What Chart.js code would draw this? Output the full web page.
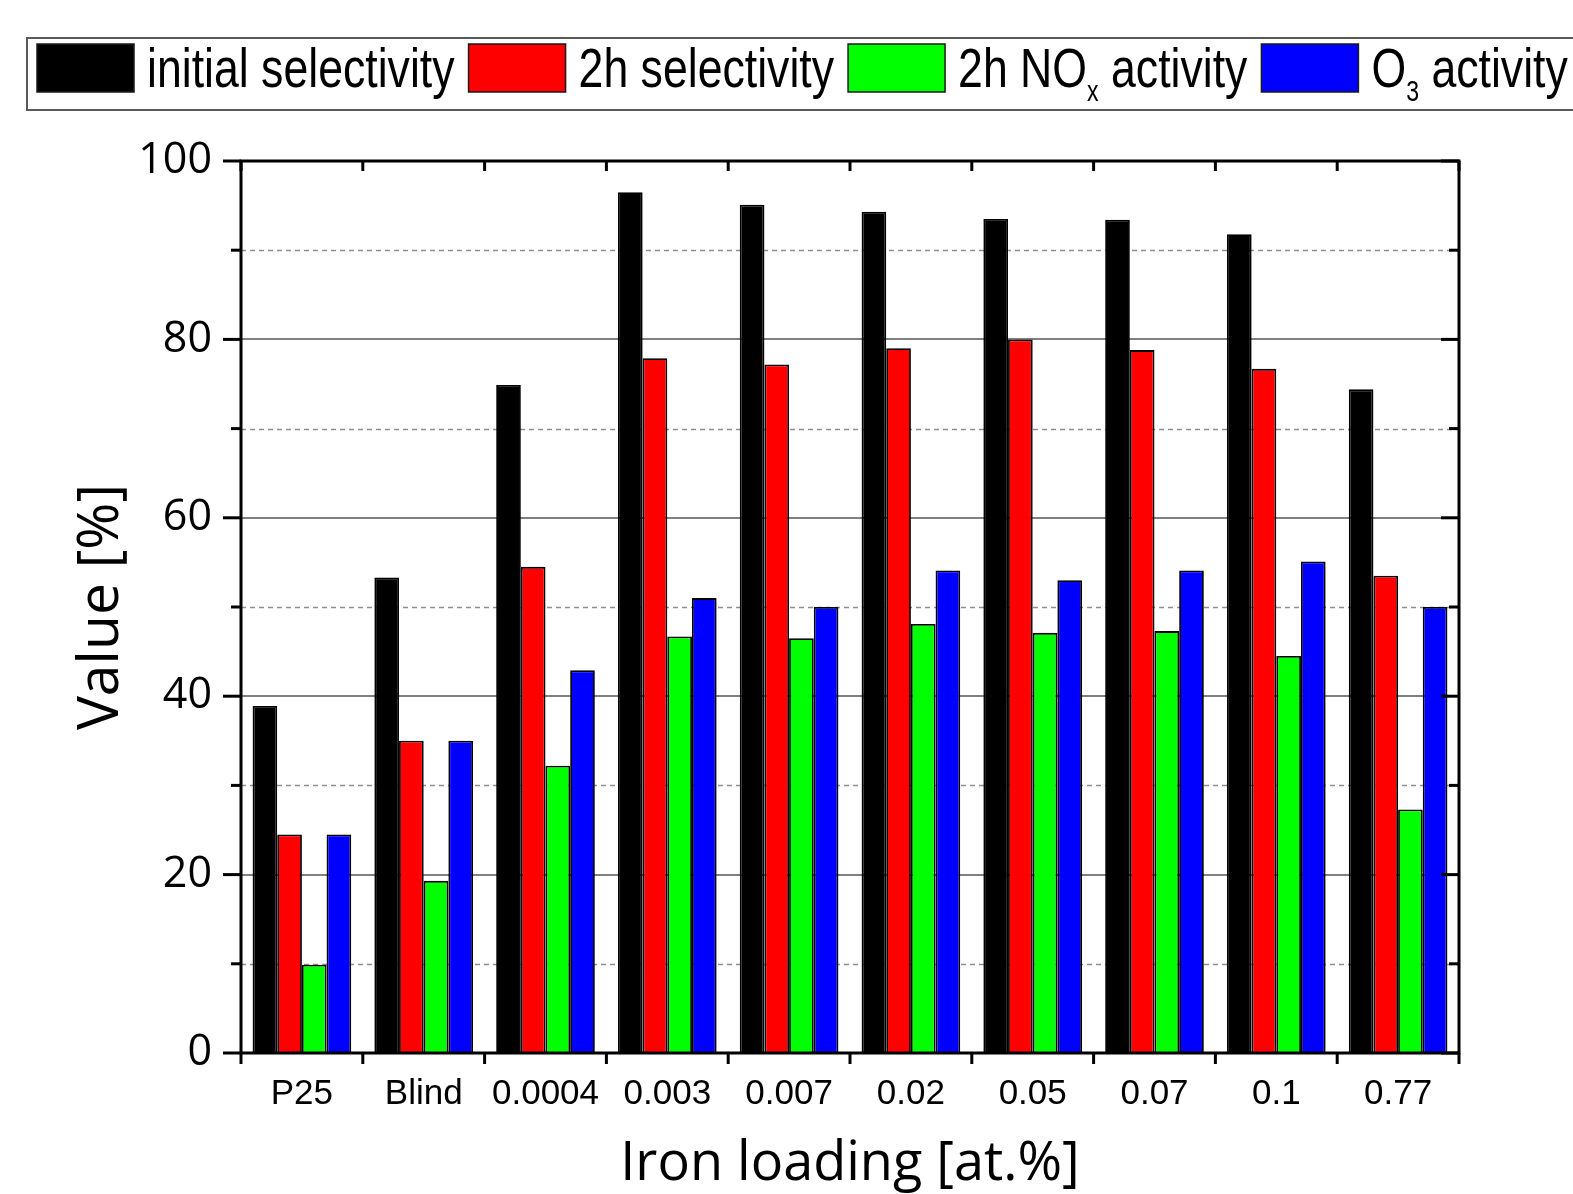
<!DOCTYPE html>
<html>
<head>
<meta charset="utf-8">
<script src="https://cdn.jsdelivr.net/npm/chart.js@4/dist/chart.umd.min.js"></script>
<style>
  html, body { margin: 0; padding: 0; background: #ffffff; }
  canvas { display: block; }
</style>
</head>
<body>
<canvas id="c" width="1573" height="1194"></canvas>
<script>
// ---- data ----
const categories = ['P25', 'Blind', '0.0004', '0.003', '0.007', '0.02', '0.05', '0.07', '0.1', '0.77'];
const initialSelectivity = [38.9, 53.3, 74.9, 96.5, 95.1, 94.3, 93.5, 93.4, 91.8, 74.4];
const selectivity2h      = [24.5, 35.0, 54.5, 77.9, 77.2, 79.0, 80.0, 78.8, 76.7, 53.5];
const noxActivity2h      = [ 9.9, 19.3, 32.2, 46.7, 46.5, 48.1, 47.1, 47.3, 44.5, 27.3];
const o3Activity         = [24.5, 35.0, 42.9, 51.0, 50.0, 54.1, 53.0, 54.1, 55.1, 50.0];
const seriesLabels = ['initial selectivity', '2h selectivity', '2h NOₓ activity', 'O₃ activity'];
const seriesColors = ['#000000', '#ff0000', '#00ff00', '#0000ff'];
const yMajorGrid = [20, 40, 60, 80];
const yMinorGrid = [10, 30, 50, 70, 90];
const yTickValues = [0, 10, 20, 30, 40, 50, 60, 70, 80, 90, 100];
const xTitle = 'Iron loading [at.%]';
const yTitle = 'Value [%]';

const subMap = { 'ₓ': 'x', '₃': '3', '₂': '2' };

const gridFramePlugin = {
  id: 'gridFrame',
  beforeDraw(chart) {
    const ctx = chart.ctx;
    ctx.save();
    ctx.fillStyle = '#ffffff';
    ctx.fillRect(0, 0, chart.width, chart.height);
    ctx.restore();
  },
  beforeDatasetsDraw(chart) {
    const { ctx, chartArea: a, scales: { y } } = chart;
    ctx.save();
    ctx.lineWidth = 1.6;
    ctx.strokeStyle = '#8f8f8f';
    ctx.setLineDash([5, 4]);
    for (const v of yMinorGrid) {
      const py = Math.round(y.getPixelForValue(v)) + 0.5;
      ctx.beginPath(); ctx.moveTo(a.left, py); ctx.lineTo(a.right, py); ctx.stroke();
    }
    ctx.setLineDash([]);
    ctx.lineWidth = 2;
    ctx.strokeStyle = '#808080';
    for (const v of yMajorGrid) {
      const py = Math.round(y.getPixelForValue(v));
      ctx.beginPath(); ctx.moveTo(a.left, py); ctx.lineTo(a.right, py); ctx.stroke();
    }
    ctx.restore();
  },
  afterDatasetsDraw(chart) {
    const { ctx, chartArea: a, scales: { x, y } } = chart;
    ctx.save();
    ctx.strokeStyle = '#000000';
    ctx.lineWidth = 3;
    ctx.strokeRect(a.left, a.top, a.right - a.left, a.bottom - a.top);
    for (const v of yTickValues) {
      const py = y.getPixelForValue(v);
      const len = (v % 20 === 0) ? 18 : 10;
      ctx.beginPath(); ctx.moveTo(a.left - len, py); ctx.lineTo(a.left, py); ctx.stroke();
      ctx.beginPath(); ctx.moveTo(a.right, py); ctx.lineTo(a.right - len, py); ctx.stroke();
    }
    for (let i = 0; i <= categories.length; i++) {
      const px = x.getPixelForValue(i - 0.5);
      ctx.beginPath(); ctx.moveTo(px, a.bottom); ctx.lineTo(px, a.bottom + 11); ctx.stroke();
      ctx.beginPath(); ctx.moveTo(px, a.top); ctx.lineTo(px, a.top + 10); ctx.stroke();
    }
    ctx.restore();
  },
  afterDraw(chart) {
    const ctx = chart.ctx;
    ctx.save();
    ctx.strokeStyle = '#5a5a5a';
    ctx.lineWidth = 2;
    ctx.strokeRect(27, 38, 1580, 72);
    const sx = 0.797;
    const mainFont = '56px "Liberation Sans", Arial, sans-serif';
    const subFont = '29px "Liberation Sans", Arial, sans-serif';
    let xPos = 37;
    chart.data.datasets.forEach((ds) => {
      ctx.fillStyle = ds.backgroundColor;
      ctx.fillRect(xPos, 44, 97, 48);
      ctx.strokeStyle = '#1a1a1a';
      ctx.lineWidth = 1.5;
      ctx.strokeRect(xPos, 44, 97, 48);
      xPos += 97 + 13;
      ctx.fillStyle = '#000000';
      const runs = [];
      for (const ch of ds.label) {
        const isSub = ch in subMap;
        const c = isSub ? subMap[ch] : ch;
        if (runs.length && runs[runs.length - 1].sub === isSub) runs[runs.length - 1].t += c;
        else runs.push({ t: c, sub: isSub });
      }
      for (const r of runs) {
        ctx.font = r.sub ? subFont : mainFont;
        const base = r.sub ? 101 : 87;
        ctx.save();
        ctx.translate(xPos, base);
        ctx.scale(sx, 1);
        ctx.textBaseline = 'alphabetic';
        ctx.fillText(r.t, 0, 0);
        ctx.restore();
        xPos += ctx.measureText(r.t).width * sx;
      }
      xPos += 14;
    });
    ctx.restore();
  }
};

const datasetValues = [initialSelectivity, selectivity2h, noxActivity2h, o3Activity];

new Chart(document.getElementById('c'), {
  type: 'bar',
  data: {
    labels: categories,
    datasets: datasetValues.map((vals, i) => ({
      label: seriesLabels[i],
      data: vals,
      backgroundColor: seriesColors[i],
      borderColor: '#000000',
      borderWidth: 1.8,
      categoryPercentage: 0.81,
      barPercentage: 1.0
    }))
  },
  options: {
    responsive: false,
    animation: false,
    devicePixelRatio: 1,
    layout: { padding: { top: 161, right: 114, bottom: 0, left: 0 } },
    plugins: {
      legend: { display: false },
      tooltip: { enabled: false }
    },
    scales: {
      x: {
        grid: { display: false },
        border: { display: false },
        ticks: {
          color: '#000000',
          padding: 12,
          font: { family: '"Liberation Sans", Arial, sans-serif', size: 35 },
          maxRotation: 0
        },
        title: {
          display: true,
          text: xTitle,
          color: '#000000',
          font: { family: '"Open Sans", sans-serif', size: 54, lineHeight: 1.1 },
          padding: { top: 0, bottom: 0 }
        },
        afterFit(scale) { scale.height = 141; }
      },
      y: {
        min: 0,
        max: 100,
        grid: { display: false },
        border: { display: false },
        ticks: {
          stepSize: 20,
          color: '#000000',
          padding: 21,
          font: { family: '"Open Sans", sans-serif', size: 43 }
        },
        title: {
          display: true,
          text: yTitle,
          color: '#000000',
          font: { family: '"Open Sans", sans-serif', size: 57, lineHeight: 1.2 },
          padding: { top: 68, bottom: 0 }
        },
        afterFit(scale) { scale.width = 241; }
      }
    }
  },
  plugins: [gridFramePlugin]
});
</script>
</body>
</html>
